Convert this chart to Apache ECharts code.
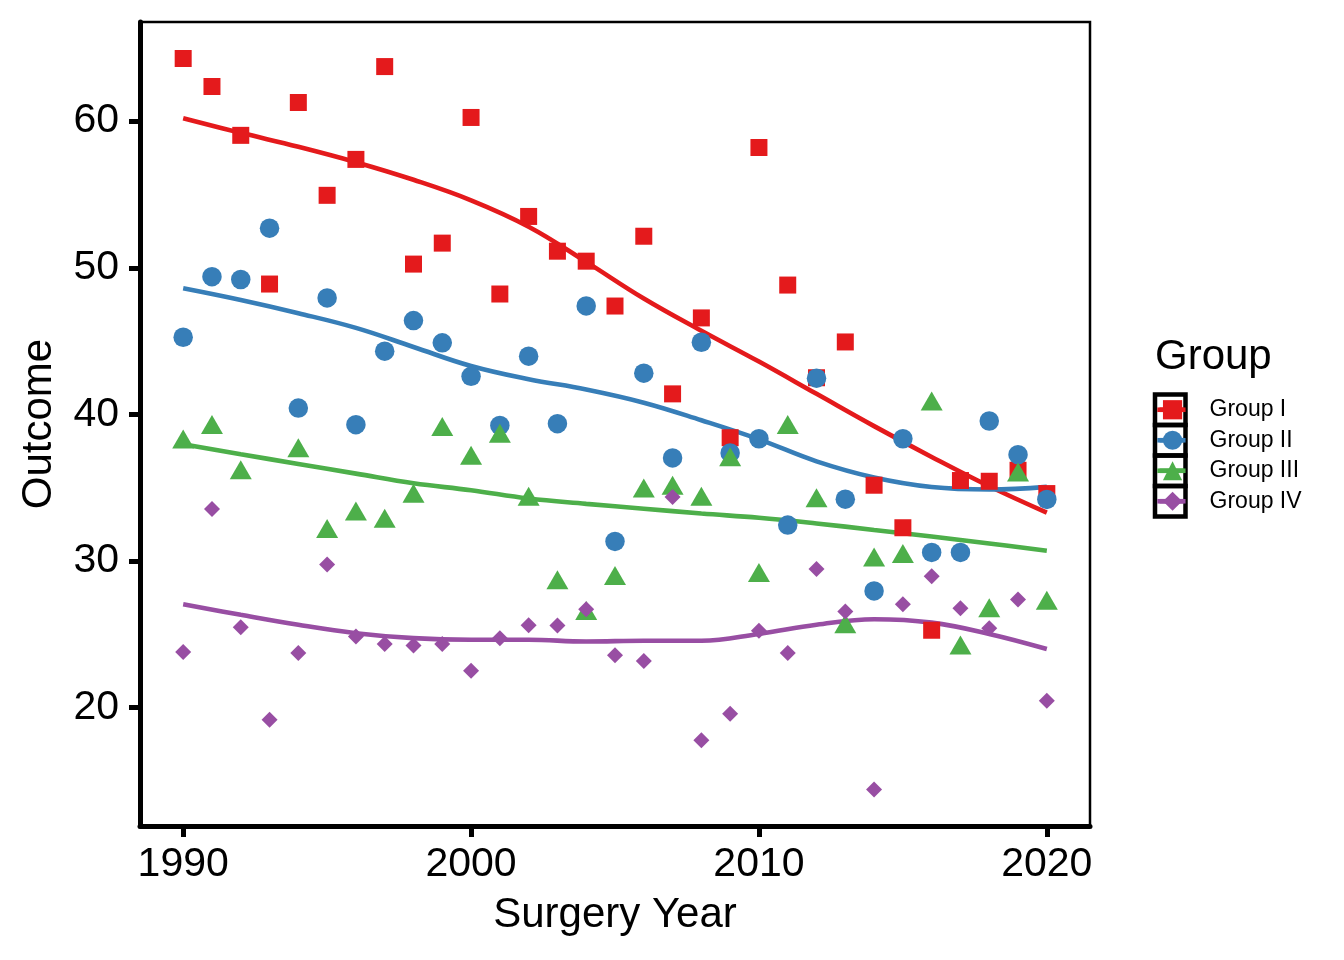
<!DOCTYPE html>
<html>
<head>
<meta charset="utf-8">
<script src="https://cdn.jsdelivr.net/npm/echarts@6/dist/echarts.min.js"></script>
<style>
html,body{margin:0;padding:0;background:#ffffff;}
#chart{width:1344px;height:960px;}
</style>
</head>
<body>
<div id="chart"></div>
<script>
// ---------- data ----------
const years = [1990,1991,1992,1993,1994,1995,1996,1997,1998,1999,
               2000,2001,2002,2003,2004,2005,2006,2007,2008,2009,
               2010,2011,2012,2013,2014,2015,2016,2017,2018,2019,2020];
const groupNames = ['Group I','Group II','Group III','Group IV'];

const outcomeI   = [64.27,62.36,59.03,48.89,61.27,54.94,57.39,63.72,50.25,51.68,
                    60.25,48.21,53.5,51.13,50.45,47.39,52.15,41.4,46.58,38.41,
                    58.2,48.82,42.5,44.94,35.17,32.27,25.28,35.49,35.44,36.19,34.6];
const outcomeII  = [45.26,49.39,49.2,52.7,40.43,47.94,39.3,44.31,46.4,44.88,
                    42.6,39.25,43.97,39.37,47.4,31.34,42.81,37.03,44.92,37.37,
                    38.34,32.45,42.47,34.22,27.96,38.34,30.59,30.59,39.55,37.25,34.2];
const outcomeIII = [38.1,39.1,36.0,null,37.5,32.0,33.2,32.7,34.4,38.96,
                    37.0,38.5,34.2,28.5,26.4,28.8,34.76,34.95,34.2,36.9,
                    29.0,39.1,34.1,25.5,30.05,30.3,40.7,24.06,26.6,35.85,27.1];
const outcomeIV  = [23.79,33.54,25.49,19.18,23.72,29.77,24.85,24.35,24.24,24.35,
                    22.52,24.74,25.62,25.6,26.71,23.57,23.18,34.37,17.78,19.59,
                    25.24,23.72,29.46,26.55,14.42,27.05,28.96,26.78,25.42,27.37,20.48];

// smooth trend curves
const trendYears   = [1990,1992,1994,1996,1998,2000,2002,2004,2006,2008,2010,2012,2014,2016,2018,2020];
const trendI       = [60.2,59.2,58.25,57.2,56.0,54.6,52.8,50.4,47.9,45.7,43.6,41.4,39.2,37.1,35.1,33.3];
const trendII      = [48.6,47.8,46.9,45.9,44.6,43.3,42.4,41.7,40.8,39.6,38.3,36.8,35.7,35.05,34.88,35.06];
const trendIII     = [37.96,37.28,36.62,35.96,35.3,34.83,34.26,33.9,33.57,33.24,32.95,32.56,32.12,31.67,31.2,30.7];
const trendIV      = [27.05,26.33,25.65,25.08,24.74,24.63,24.63,24.51,24.56,24.56,25.03,25.65,26.03,25.8,25.03,24.0];

const xTicks = [1990,2000,2010,2020];
const yTicks = [20,30,40,50,60];

// ---------- styling ----------
const colors  = ['#E41A1C','#377EB8','#4DAF4A','#984EA3'];
const symbols = ['rect','circle','triangle','diamond'];
const sizes   = [17,19.5,[22,19],16];
const offsets = [[0,0],[0,0],[0,-3.2],[0,0]];
const FONT = '"Liberation Sans", Arial, Helvetica, sans-serif';

const pointSets = [outcomeI,outcomeII,outcomeIII,outcomeIV];
const trendSets = [trendI,trendII,trendIII,trendIV];

const zip = (xs, ys) => xs.map((x,i)=>[x, ys[i]]).filter(p => p[1] !== null);

const series = [];
groupNames.forEach((name,i)=>{
  series.push({
    name: name, type:'line', smooth:0.4,
    data: zip(trendYears, trendSets[i]),
    showSymbol:false, symbol:symbols[i], symbolSize:18,
    lineStyle:{color:colors[i], width:4.6},
    itemStyle:{color:colors[i]},
    z:2, silent:true
  });
});
groupNames.forEach((name,i)=>{
  series.push({
    name: name, type:'scatter',
    data: zip(years, pointSets[i]),
    symbol:symbols[i], symbolSize:sizes[i], symbolOffset:offsets[i],
    itemStyle:{color:colors[i], opacity:1},
    z:3, silent:true
  });
});

// legend key frames (ggplot-style bordered keys) with the key line segment
const KEY_TOP = 394.5, KEY_H = 30.5;
const keyGraphics = [];
groupNames.forEach((n,i)=>{
  keyGraphics.push({
    type:'rect',
    shape:{x:1155, y:KEY_TOP + i*KEY_H, width:30.5, height:KEY_H},
    style:{fill:'none', stroke:'#000', lineWidth:4.5},
    z:0
  });
  keyGraphics.push({
    type:'line',
    shape:{x1:1157.3, y1:KEY_TOP + i*KEY_H + KEY_H/2, x2:1183.2, y2:KEY_TOP + i*KEY_H + KEY_H/2},
    style:{stroke:colors[i], lineWidth:4.6},
    z:1
  });
});

const chart = echarts.init(document.getElementById('chart'), null, {renderer:'canvas'});
chart.setOption({
  animation:false,
  backgroundColor:'#ffffff',
  grid:{left:140, right:254, top:22, bottom:134, show:true, borderColor:'#000', borderWidth:2.5, backgroundColor:'transparent'},
  xAxis:{
    type:'value', min:1988.5, max:2021.5,
    name:'Surgery Year', nameLocation:'middle', nameGap:68,
    nameTextStyle:{fontSize:42, color:'#000', fontFamily:FONT},
    axisLine:{show:true, onZero:false, lineStyle:{color:'#000', width:5}},
    axisTick:{show:true, length:11, customValues:xTicks, lineStyle:{color:'#000', width:5}},
    axisLabel:{show:true, customValues:xTicks, margin:18, fontSize:41, color:'#000', fontFamily:FONT,
               formatter:(v)=>String(v)},
    splitLine:{show:false}
  },
  yAxis:{
    type:'value', min:11.93, max:66.76,
    name:'Outcome', nameLocation:'middle', nameGap:80, nameRotate:90,
    nameTextStyle:{fontSize:42, color:'#000', fontFamily:FONT},
    axisLine:{show:true, onZero:false, lineStyle:{color:'#000', width:5}},
    axisTick:{show:true, length:11, customValues:yTicks, lineStyle:{color:'#000', width:5}},
    axisLabel:{show:true, customValues:yTicks, margin:21, fontSize:41, color:'#000', fontFamily:FONT,
               formatter:(v)=>String(v)},
    splitLine:{show:false}
  },
  legend:{
    show:true, orient:'vertical', left:1157.25, top:397.75, padding:0,
    itemWidth:26, itemHeight:24, itemGap:6.5,
    data:groupNames, selectedMode:false,
    lineStyle:{width:4.6},
    textStyle:{fontSize:23, color:'#000', fontFamily:FONT, padding:[0,0,0,19], lineHeight:24}
  },
  graphic:[
    {type:'text', left:1155, top:336, style:{text:'Group', font:'42px ' + FONT, fill:'#000'}, z:10}
  ].concat(keyGraphics),
  series: series
});
</script>
</body>
</html>
